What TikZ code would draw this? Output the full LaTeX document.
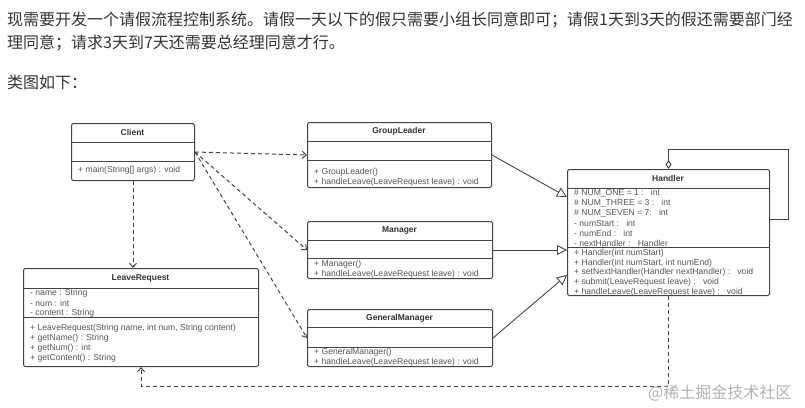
\documentclass[tikz,border=0pt]{standalone}
\usepackage{fontspec}
\setmainfont{Liberation Sans}
\newfontfamily\cjk{Noto Sans CJK SC}
\usetikzlibrary{arrows.meta,calc}
\definecolor{txt}{HTML}{333333}
\definecolor{mem}{HTML}{555555}
\definecolor{edge}{HTML}{444444}
\begin{document}
\begin{tikzpicture}[x=1pt,y=-1pt,
  cls/.style={draw=edge, line width=1pt, rounded corners=1.5pt, fill=white, inner sep=0pt, anchor=north west},
  divl/.style={draw=edge, line width=1pt},
  memb/.style={anchor=west, inner sep=0pt, text=mem, font=\fontsize{8.6}{10}\selectfont},
  ttl/.style={inner sep=0pt, text=txt, font=\bfseries\fontsize{8.5}{10}\selectfont},
  para/.style={anchor=west, inner sep=0pt, text=txt, font=\cjk\fontsize{16}{20}\selectfont},
  dep/.style={draw=edge, line width=1pt, dash pattern=on 4pt off 3pt, -{Straight Barb[length=4pt,width=7pt]}},
  gen/.style={draw=edge, line width=0.9pt, -{Triangle[open,length=10pt,width=10pt,fill=white]}},
  assoc/.style={draw=edge, line width=1pt, {Diamond[open,length=9pt,width=6pt,fill=white]}-}
]
\useasboundingbox (0,0) rectangle (805,407);

% paragraph text
\node[para] (p1) at (7,20) {现需要开发一个请假流程控制系统。请假一天以下的假只需要小组长同意即可；请假1天到3天的假还需要部门经};
\node[para] (p2) at (7,43) {理同意；请求3天到7天还需要总经理同意才行。};
\node[para] (p3) at (7,82) {类图如下：};

% Client
\node[cls, minimum width=123pt, minimum height=57pt] (client) at (71,123) {};
\draw[divl] (71,142) -- (194,142);
\draw[divl] (71,161) -- (194,161);
\node[ttl] (clientT) at (132.5,132.5) {Client};
\node[memb] (clientM1) at (78,170.5) {+ main(String[] args) : void};

% LeaveRequest
\node[cls, minimum width=235pt, minimum height=98pt] (lr) at (23,268) {};
\draw[divl] (23,288) -- (258,288);
\draw[divl] (23,317) -- (258,317);
\node[ttl] (lrT) at (140.5,278) {LeaveRequest};
\node[memb] (lrA1) at (30,293) {- name : String};
\node[memb] (lrA2) at (30,303) {- num : int};
\node[memb] (lrA3) at (30,313) {- content : String};
\node[memb] (lrM1) at (30,328) {+ LeaveRequest(String name, int num, String content)};
\node[memb] (lrM2) at (30,338) {+ getName() : String};
\node[memb] (lrM3) at (30,348) {+ getNum() : int};
\node[memb] (lrM4) at (30,358) {+ getContent() : String};

% GroupLeader
\node[cls, minimum width=184pt, minimum height=65pt] (gl) at (307,122) {};
\draw[divl] (307,141) -- (491,141);
\draw[divl] (307,160) -- (491,160);
\node[ttl] (glT) at (399,131.5) {GroupLeader};
\node[memb] (glM1) at (314,172) {+ GroupLeader()};
\node[memb] (glM2) at (314,182) {+ handleLeave(LeaveRequest leave) : void};

% Manager
\node[cls, minimum width=185pt, minimum height=57pt] (mgr) at (307,221) {};
\draw[divl] (307,240) -- (492,240);
\draw[divl] (307,258) -- (492,258);
\node[ttl] (mgrT) at (399.5,230.5) {Manager};
\node[memb] (mgrM1) at (314,264) {+ Manager()};
\node[memb] (mgrM2) at (314,274) {+ handleLeave(LeaveRequest leave) : void};

% GeneralManager
\node[cls, minimum width=185pt, minimum height=57pt] (gm) at (307,309) {};
\draw[divl] (307,327) -- (492,327);
\draw[divl] (307,347) -- (492,347);
\node[ttl] (gmT) at (399.5,318) {GeneralManager};
\node[memb] (gmM1) at (314,352) {+ GeneralManager()};
\node[memb] (gmM2) at (314,362) {+ handleLeave(LeaveRequest leave) : void};

% Handler
\node[cls, minimum width=202pt, minimum height=126pt] (handler) at (567,169) {};
\draw[divl] (567,188) -- (769,188);
\draw[divl] (567,247) -- (769,247);
\node[ttl] (hT) at (668,178.5) {Handler};
\node[memb] (hA1) at (574,193) {\# NUM\_ONE = 1 :\ \ \ int};
\node[memb] (hA2) at (574,203) {\# NUM\_THREE = 3 :\ \ \ int};
\node[memb] (hA3) at (574,213) {\# NUM\_SEVEN = 7:\ \ \ int};
\node[memb] (hA4) at (574,223) {- numStart :\ \ \ int};
\node[memb] (hA5) at (574,233) {- numEnd :\ \ \ int};
\node[memb] (hA6) at (574,243) {- nextHandler :\ \ \ Handler};
\node[memb] (hM1) at (574,253) {+ Handler(int numStart)};
\node[memb] (hM2) at (574,263) {+ Handler(int numStart, int numEnd)};
\node[memb] (hM3) at (574,272.5) {+ setNextHandler(Handler nextHandler) :\ \ \ void};
\node[memb] (hM4) at (574,282.5) {+ submit(LeaveRequest leave) :\ \ \ void};
\node[memb] (hM5) at (574,292.5) {+ handleLeave(LeaveRequest leave) :\ \ \ void};

% connectors
\draw[dep] (client.east) -- (gl.west);
\draw[dep] (client.east) -- (mgr.west);
\draw[dep] (client.east) -- (gm.west);
\draw[dep] (client.south) -- (client.south |- lr.north);

\coordinate (h1) at ($(handler.north west)+(0,28)$);
\coordinate (h3) at ($(handler.north west)+(0,106)$);
\draw[gen] (gl.east) -- (h1);
\draw[gen] (mgr.east) -- (handler.west |- mgr.east);
\draw[gen] (gm.east) -- (h3);

\coordinate (loopend) at ($(handler.north east)+(0,50)$);
\draw[assoc] (handler.north) -- ++(0,-20) -- ++(120,0) |- (loopend);

\coordinate (hb) at ($(handler.south)+(0,90)$);
\draw[dep] (handler.south) -- (hb) -| (lr.south);

% watermark
\node[anchor=west, inner sep=0pt, text=black!30, font=\cjk\fontsize{16}{20}\selectfont] (wm) at (648,393) {@稀土掘金技术社区};
\end{tikzpicture}
\end{document}
